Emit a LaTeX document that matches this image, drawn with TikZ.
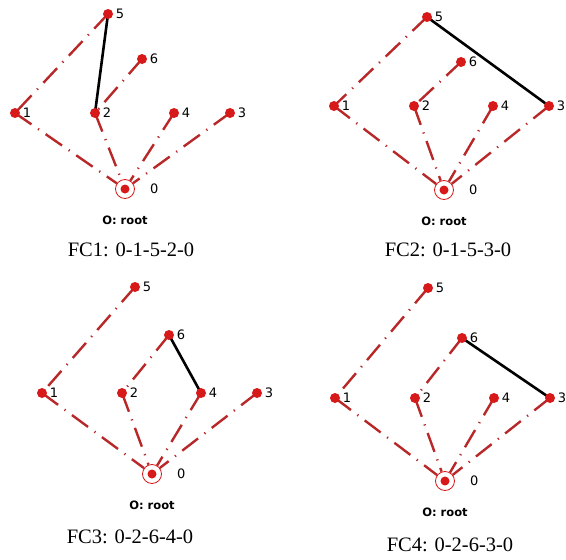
\documentclass[tikz,border=0pt]{standalone}
\usepackage{fontspec}
\setmainfont{Liberation Serif}
\newfontfamily\numfont{DejaVu Sans}
\usetikzlibrary{positioning,backgrounds}
\definecolor{fcred}{RGB}{215,25,25}
\definecolor{fcdash}{RGB}{185,40,40}
\tikzset{
    pt/.style={circle, fill=fcred, inner sep=0pt, minimum size=10pt},
    rootpt/.style={circle, draw=fcred, thick, inner sep=0pt, minimum size=19pt,
                   path picture={\fill[fcred] (path picture bounding box.center) circle (4.5pt);}},
    numlbl/.style={font=\numfont\fontsize{13}{13}\selectfont, inner sep=0pt},
    rootlbl/.style={font=\numfont\bfseries\fontsize{11.5}{11.5}\selectfont, inner sep=0pt},
    caplbl/.style={font=\fontsize{20.5}{20.5}\selectfont, inner sep=0pt},
    tree/.style={fcdash, line width=2.4pt,
                 dash pattern=on 20pt off 8pt on 1.2pt off 8pt},
    tour/.style={black, line width=2.6pt},
}

\begin{document}
\begin{tikzpicture}[x=1pt, y=-1pt]
    \useasboundingbox (0,0) rectangle (566,560);

    % panel / node 0 / row, 5 and 6 heights / tour edge / caption
    \foreach \p/\ox/\oy/\ry/\fy/\sy/\a/\b/\cx/\cy/\txt in {
        a/125/189/-76/-175/-130/5/2/131/250/{FC1: 0-1-5-2-0},
        b/444/190/-84/-173/-128/5/3/448/250/{FC2: 0-1-5-3-0},
        c/152/474/-81/-187/-139/6/4/130/537/{FC3: 0-2-6-4-0},
        d/445/481/-83/-193/-143/6/3/450/545/{FC4: 0-2-6-3-0}} {

        \node[rootpt, label={[numlbl, label distance=15pt]right:0}] (\p0) at (\ox,\oy) {};
        \node[pt, label={[numlbl, label distance=2.5pt]right:1}] (\p1) at ({\ox-110},{\oy+\ry}) {};
        \node[pt, label={[numlbl, label distance=2.5pt]right:2}] (\p2) at ({\ox-30},{\oy+\ry}) {};
        \node[pt, label={[numlbl, label distance=2.5pt]right:4}] (\p4) at ({\ox+49},{\oy+\ry}) {};
        \node[pt, label={[numlbl, label distance=2.5pt]right:3}] (\p3) at ({\ox+105},{\oy+\ry}) {};
        \node[pt, label={[numlbl, label distance=2.5pt]right:5}] (\p5) at ({\ox-17},{\oy+\fy}) {};
        \node[pt, label={[numlbl, label distance=2.5pt]right:6}] (\p6) at ({\ox+17},{\oy+\sy}) {};

        \node[rootlbl, below=17pt of \p0] (\p r) {O: root};
        \node[caplbl] (\p c) at (\cx,\cy) {\txt};

        \begin{scope}[on background layer]
            \foreach \n in {1,2,4,3}
                \draw[tree] (\p\n.center) -- (\p0);
            \draw[tree] (\p5.center) -- (\p1.center);
            \draw[tree] (\p6.center) -- (\p2.center);
            \draw[tour] (\p\a.center) -- (\p\b.center);
        \end{scope}
    }
\end{tikzpicture}
\end{document}
